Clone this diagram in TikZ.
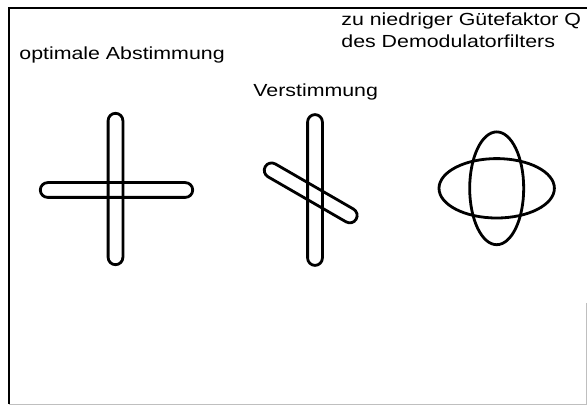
\documentclass[tikz,border=0pt]{standalone}
\usepackage{fontspec}
\setmainfont{Liberation Sans}[FakeStretch=1.22]
\usepackage{tikz}

\begin{document}
\begin{tikzpicture}[
  x=1pt, y=-1pt, line width=2.8pt,
  stab/.style={draw, rounded corners=7.4pt},
  oval/.style={draw},
  label/.style={inner sep=0pt, anchor=base west, align=left,
    font=\fontsize{17.5}{22}\selectfont}]

  \useasboundingbox (0,0) rectangle (587,406);

  % Rahmen
  \draw[line width=1.8pt] (587,8) -- (9,8) -- (9,404);
  \draw[line width=0.8pt, black!25] (9,404) -- (587,404);
  \draw[line width=0.8pt, black!25] (586,303) -- (586,404);

  % Beschriftungen
  \node[label] (opt)   at (18,60)  {optimale Abstimmung};
  \node[label] (verst) at (252,97) {Verstimmung};
  \node[label] (guete) at (340,48) {zu niedriger Gütefaktor Q\\des Demodulatorfilters};

  % optimale Abstimmung
  \draw[stab] (108.1,113.3) rectangle (122.9,264.7);
  \draw[stab] (40.3,182.6) rectangle (192.7,197.4);

  % Verstimmung
  \draw[stab] (307.6,114.6) rectangle (322.4,265.4);
  \draw[stab, rotate around={-30:(310.7,192.9)}]
    (258.2,185.5) rectangle (363.2,200.3);

  % zu niedriger Guetefaktor
  \draw[oval] (496.7,188.3) ellipse [x radius=57.7, y radius=29.7];
  \draw[oval] (496.7,188.3) ellipse [x radius=27, y radius=56.4];
\end{tikzpicture}
\end{document}
